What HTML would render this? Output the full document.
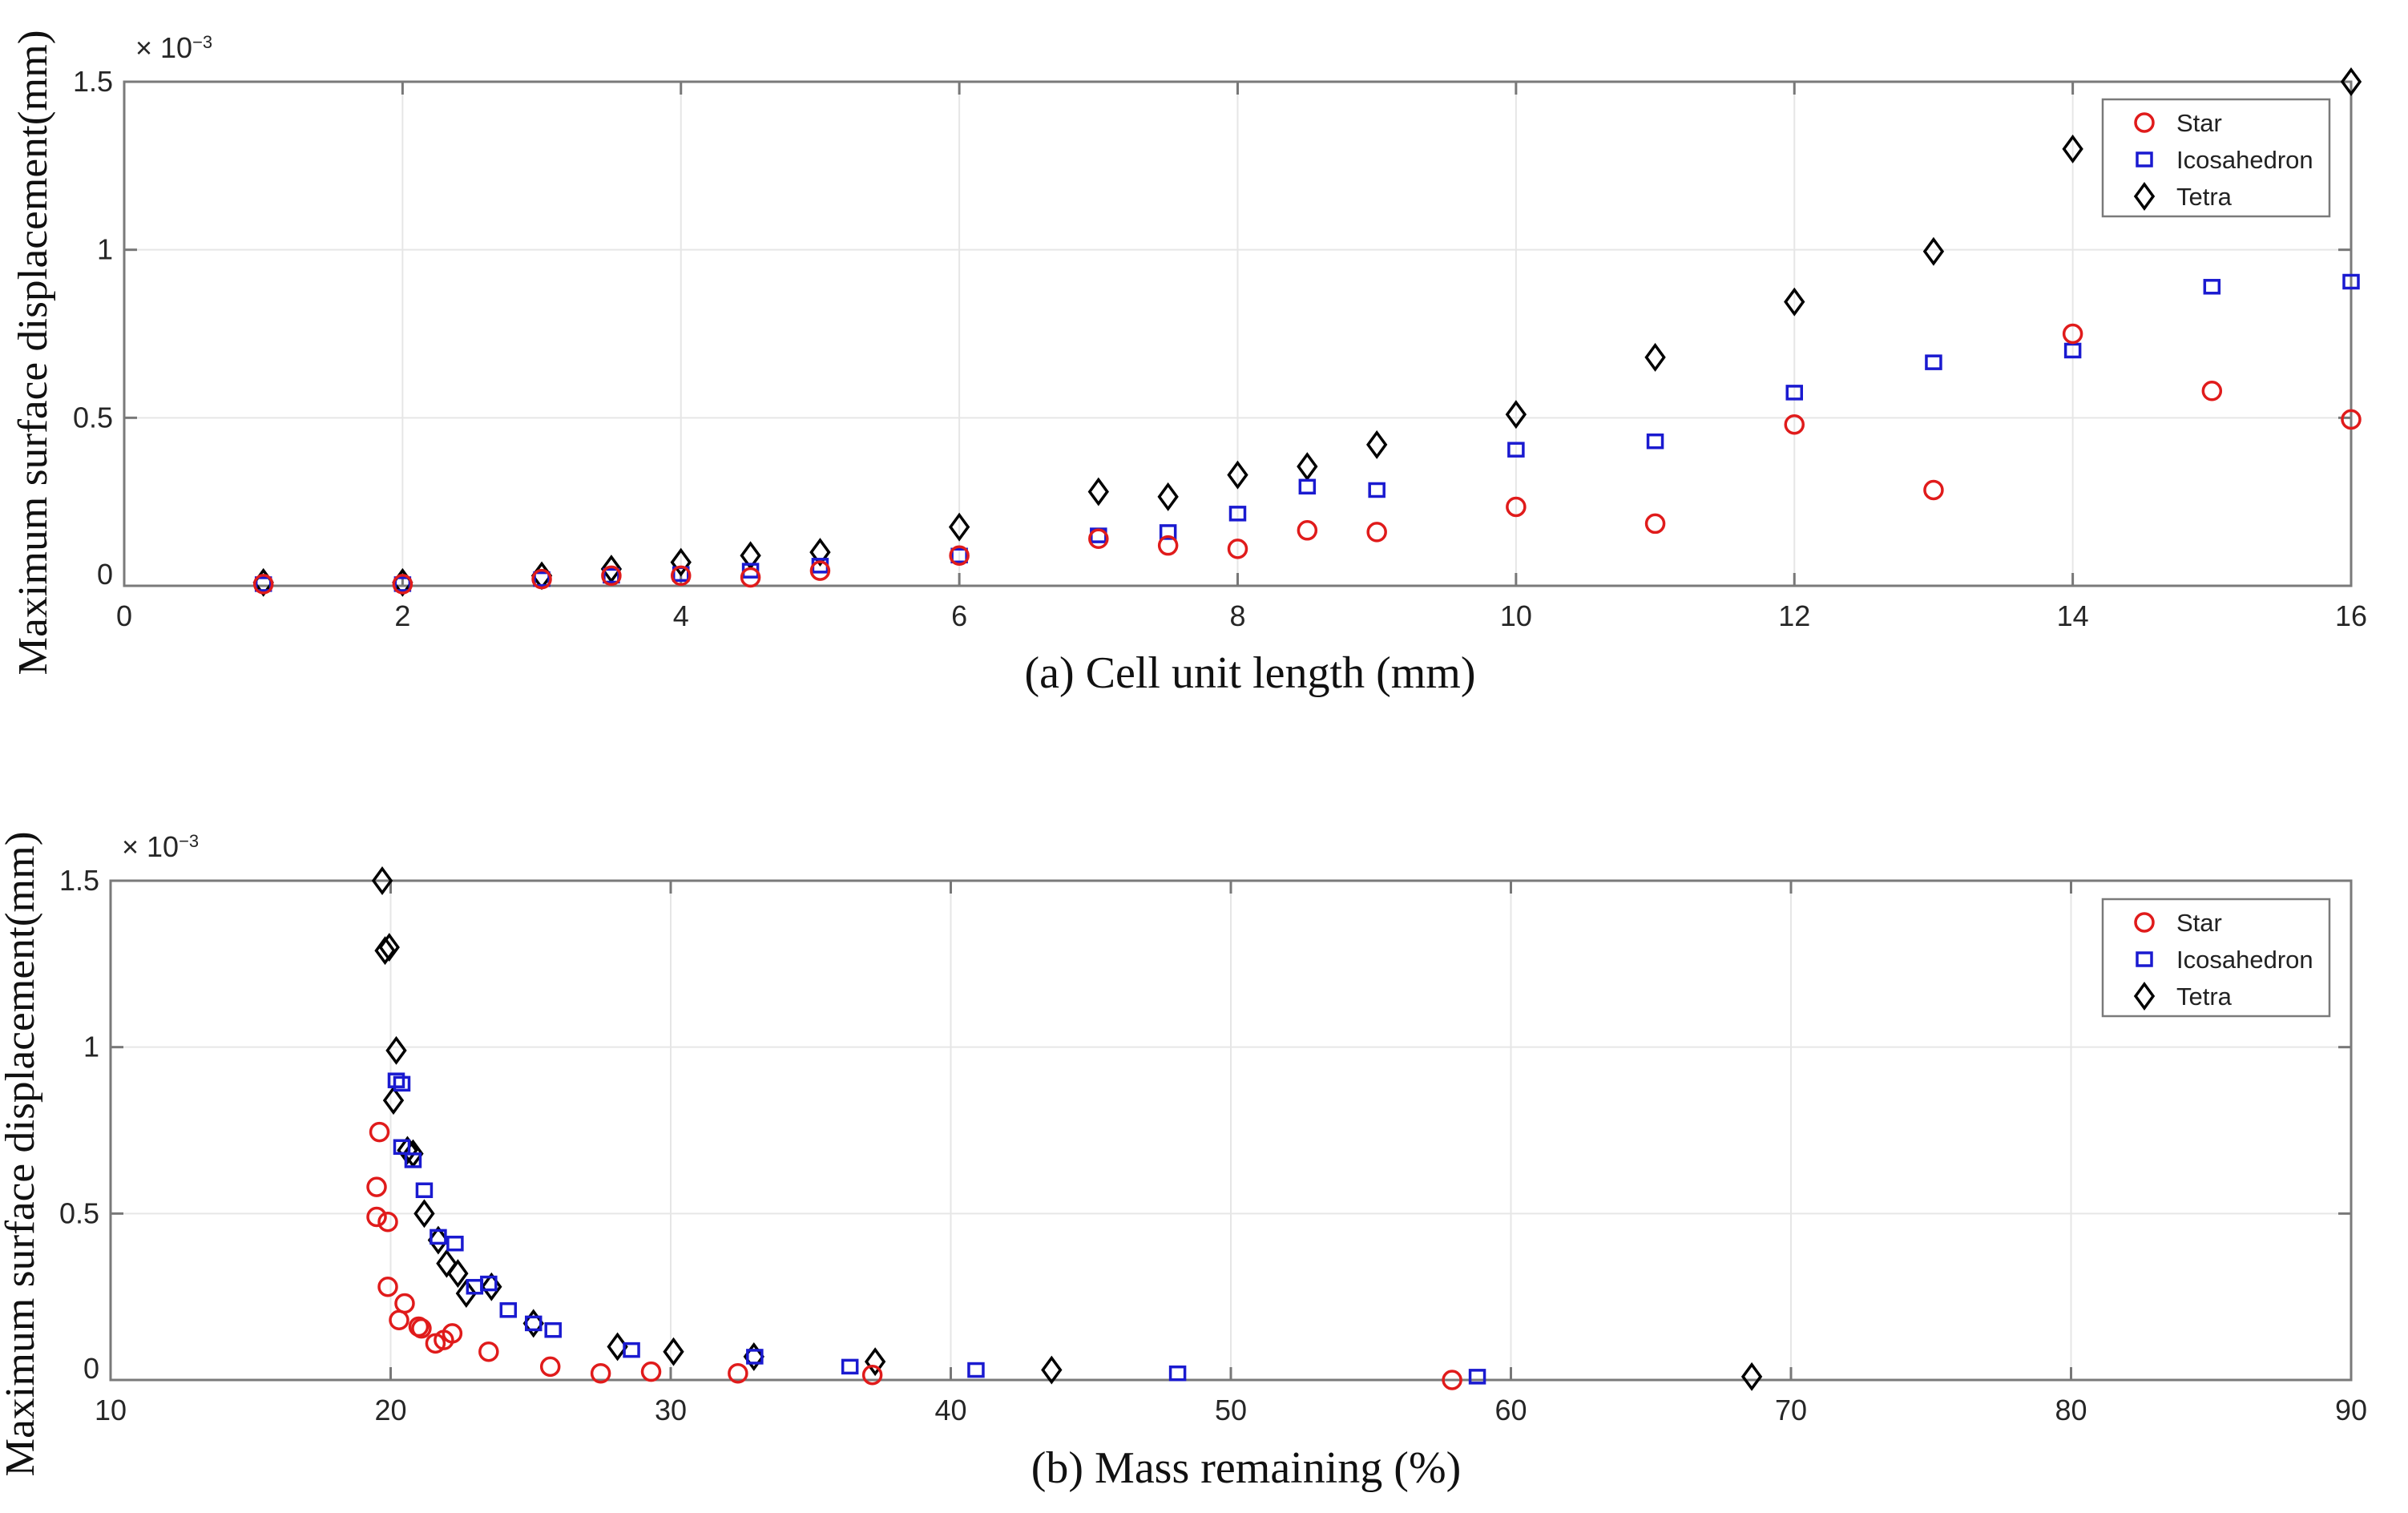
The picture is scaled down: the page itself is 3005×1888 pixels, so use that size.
<!DOCTYPE html>
<html><head><meta charset="utf-8"><style>
html,body{margin:0;padding:0;background:#fff;width:3005px;height:1888px;overflow:hidden}
svg{display:block}
.tick{font-family:"Liberation Sans",sans-serif;font-size:36px;fill:#262626}
.ser{font-family:"Liberation Serif",serif;fill:#111}
.leg{font-family:"Liberation Sans",sans-serif;font-size:31px;fill:#222}
</style></head><body>
<svg id="chart" width="3005" height="1888" viewBox="0 0 3005 1888" xmlns="http://www.w3.org/2000/svg"></svg>
<script>
// Panel (a) data
const aX = [1,2,3,3.5,4,4.5,5,6,7,7.5,8,8.5,9,10,11,12,13,14,15,16];
const aStar = [0.005,0.005,0.02,0.03,0.03,0.025,0.045,0.09,0.14,0.12,0.11,0.165,0.16,0.235,0.185,0.48,0.285,0.75,0.58,0.495];
const aIco = [0.005,0.005,0.02,0.03,0.035,0.045,0.06,0.09,0.15,0.16,0.215,0.295,0.285,0.405,0.43,0.575,0.665,0.70,0.89,0.905];
const aTetra = [0.01,0.01,0.03,0.05,0.07,0.09,0.10,0.175,0.28,0.265,0.33,0.355,0.42,0.51,0.68,0.845,0.995,1.30,null,1.50];
const aXTicks = [0,2,4,6,8,10,12,14,16];
const yTicks = [0,0.5,1,1.5];
const yTickLabels = ["0","0.5","1","1.5"];
// Panel (b) data
const bStarX = [19.6,19.5,19.5,19.9,19.9,20.5,20.3,21.0,21.1,21.6,21.9,22.2,23.5,25.7,27.5,29.3,32.4,37.2,57.9];
const bStarY = [0.745,0.58,0.49,0.475,0.28,0.23,0.18,0.16,0.155,0.11,0.12,0.14,0.085,0.04,0.02,0.025,0.02,0.015,0.0];
const bIcoX = [20.2,20.4,20.4,20.8,21.2,21.7,22.3,23.0,23.5,24.2,25.1,25.8,28.6,33.0,36.4,40.9,48.1,58.8];
const bIcoY = [0.90,0.89,0.70,0.66,0.57,0.43,0.41,0.28,0.29,0.21,0.17,0.15,0.09,0.07,0.04,0.03,0.02,0.01];
const bTetraX = [19.7,19.8,19.95,20.2,20.1,20.6,20.8,21.2,21.7,22.0,22.4,22.7,23.6,25.1,28.1,30.1,32.97,37.3,43.6,68.6];
const bTetraY = [1.5,1.29,1.30,0.99,0.84,0.69,0.68,0.50,0.42,0.35,0.32,0.26,0.28,0.17,0.10,0.085,0.07,0.055,0.03,0.01];
const bXTicks = [10,20,30,40,50,60,70,80,90];

const NS="http://www.w3.org/2000/svg";
const svg=document.getElementById('chart');
function mk(tag,attrs,parent){const e=document.createElementNS(NS,tag);for(const k in attrs)e.setAttribute(k,attrs[k]);(parent||svg).appendChild(e);return e;}

const shapes={
  circle(x,y,g){const c=mk('circle',{cx:x,cy:y,r:11,fill:'none',stroke:'#e01b1b','stroke-width':3.5},g);
    
    },
  square(x,y,g){const c=mk('rect',{x:x-9,y:y-8,width:18,height:16,fill:'none',stroke:'#1a1ad0','stroke-width':3.5},g);
    
    },
  diamond(x,y,g){const c=mk('path',{d:`M${x},${y-15} L${x+11},${y} L${x},${y+15} L${x-11},${y} Z`,fill:'none',stroke:'#000','stroke-width':3.5},g);
    
    }
};

function panel(P){
  const g=mk('g',{});
  
  
  const sx=v=>P.l+(v-P.x0)/(P.x1-P.x0)*(P.r-P.l);
  const sy=v=>P.b-(v-0)/1.5*(P.b-P.t);
  P.xt.forEach(v=>{const x=sx(v);
    const gl=mk('line',{x1:x,x2:x,y1:P.t,y2:P.b,stroke:'#e6e6e6','stroke-width':2},g);
    
    
    mk('line',{x1:x,x2:x,y1:P.b,y2:P.b-16,stroke:'#777','stroke-width':3},g);
    mk('line',{x1:x,x2:x,y1:P.t,y2:P.t+16,stroke:'#777','stroke-width':3},g);
    const t=mk('text',{x:x,y:P.b+50,'text-anchor':'middle',class:'tick'},g);t.textContent=v;
    
    
  });
  yTicks.forEach((v,i)=>{const y=sy(v);
    const gl=mk('line',{x1:P.l,x2:P.r,y1:y,y2:y,stroke:'#e6e6e6','stroke-width':2},g);
    
    
    mk('line',{x1:P.l,x2:P.l+16,y1:y,y2:y,stroke:'#777','stroke-width':3},g);
    mk('line',{x1:P.r,x2:P.r-16,y1:y,y2:y,stroke:'#777','stroke-width':3},g);
    const t=mk('text',{x:P.l-14,y:y+(i==0?-2:12),'text-anchor':'end',class:'tick'},g);t.textContent=yTickLabels[i];
    
    
  });
  const box=mk('rect',{x:P.l,y:P.t,width:P.r-P.l,height:P.b-P.t,fill:'none',stroke:'#7a7a7a','stroke-width':3},g);
  
  
  const ex=mk('text',{x:P.l+14,y:P.t-30,class:'tick','font-size':'32'},g);
  ex.innerHTML='× 10<tspan dy="-12" font-size="22">−3</tspan>';
  
  
  const yl=mk('text',{x:0,y:0,class:'ser','font-size':'52','text-anchor':'middle',transform:`translate(${P.yl},${P.ylc}) rotate(-90)`,textLength:P.ylLen,lengthAdjust:'spacingAndGlyphs'},g);
  yl.textContent='Maximum surface displacement(mm)';
  
  
  const xl=mk('text',{x:P.xlx,y:P.xly,class:'ser','font-size':'56','text-anchor':'middle','xml:space':'preserve'},g);
  xl.textContent=P.xlabel;
  
  
  P.series.forEach(s=>{s.x.forEach((xv,i)=>{const yv=s.y[i];if(yv==null)return;shapes[s.k](sx(xv),sy(yv),g);});});
  const L=mk('g',{},g);
  
  
  mk('rect',{x:P.lx,y:P.ly,width:283,height:146,fill:'#fff',stroke:'#7a7a7a','stroke-width':2.5},L);
  const names=['Star','Icosahedron','Tetra'];const ks=['circle','square','diamond'];
  names.forEach((n,i)=>{const yy=P.ly+29+i*46;shapes[ks[i]](P.lx+52,yy,L);
    const t=mk('text',{x:P.lx+92,y:yy+11,class:'leg'},L);t.textContent=n;
    
    });
}
const A={name:'panel-a',l:155,r:2934,t:102,b:731,x0:0,x1:16,xt:aXTicks,yl:58,ylc:440,ylLen:805,xlx:1560,xly:858,xlabel:'(a)   Cell unit length (mm)',lx:2624,ly:124,
  series:[{x:aX,y:aTetra,k:'diamond'},{x:aX,y:aIco,k:'square'},{x:aX,y:aStar,k:'circle'}]};
const B={name:'panel-b',l:138,r:2934,t:1099,b:1722,x0:10,x1:90,xt:bXTicks,yl:42,ylc:1440,ylLen:805,xlx:1555,xly:1850,xlabel:'(b)  Mass remaining (%)',lx:2624,ly:1122,
  series:[{x:bTetraX,y:bTetraY,k:'diamond'},{x:bIcoX,y:bIcoY,k:'square'},{x:bStarX,y:bStarY,k:'circle'}]};
panel(A);panel(B);
</script>
</body></html>
